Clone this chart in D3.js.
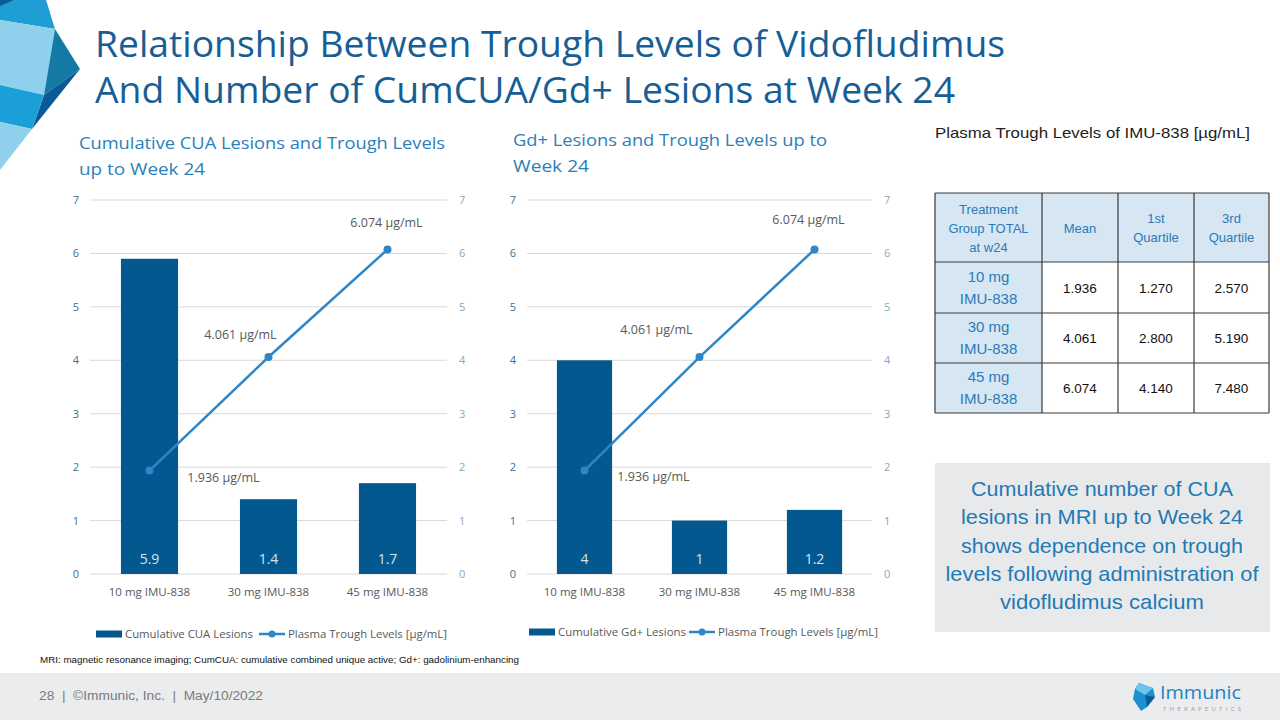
<!DOCTYPE html>
<html lang="en">
<head>
<meta charset="UTF-8">
<title>Relationship Between Trough Levels of Vidofludimus</title>
<script src="https://d3js.org/d3.v7.min.js"></script>
<style>
    body { margin: 0; background: #fff; }
    svg { display: block; }
    text { font-family: "Open Sans", "Noto Sans", sans-serif; }
    .calibri { font-family: "Liberation Sans", Arial, sans-serif; }
</style>
</head>
<body>
<svg width="1280" height="720"></svg>
<script>
// ---- data ----
const categories = ["10 mg IMU-838", "30 mg IMU-838", "45 mg IMU-838"];
const cuaLesions = [5.9, 1.4, 1.7];
const gdLesions = [4, 1, 1.2];
const troughMean = [1.936, 4.061, 6.074];
const troughQ1 = [1.270, 2.800, 4.140];
const troughQ3 = [2.570, 5.190, 7.480];
const yTicks = [0, 1, 2, 3, 4, 5, 6, 7];
const tableHeader = [["Treatment", "Group TOTAL", "at w24"], ["Mean"], ["1st", "Quartile"], ["3rd", "Quartile"]];
const tableGroups = [["10 mg", "IMU-838"], ["30 mg", "IMU-838"], ["45 mg", "IMU-838"]];

const svg = d3.select("svg");
const fmt3 = d3.format(".3f");

const BAR = "#03588f", LINE = "#2d86c7", GRID = "#d9d9d9";

// ---- top-left decoration ----
const deco = svg.append("g");
[
    [[0,0],[46,0],[55,29],[0,20]], "#1f9dd5",
    [[0,0],[14,0],[0,6]], "#0b5c96",
    [[0,20],[55,29],[44,95],[0,85]], "#8fd1ec",
    [[55,29],[80,69],[44,95]], "#137aa6",
    [[80,69],[44,95],[32,129]], "#0a5a98",
    [[0,85],[44,95],[32,129],[0,122]], "#1a9fd8",
    [[0,122],[32,129],[0,170]], "#8fd1ec"
].reduce((acc, v, i, arr) => { if (i % 2 === 0) acc.push([v, arr[i + 1]]); return acc; }, [])
 .forEach(([pts, c]) => deco.append("polygon").attr("points", pts.join(" ")).attr("fill", c));

// ---- main title ----
svg.append("text").attr("x", 95).attr("y", 57).attr("font-size", 37).attr("fill", "#175e96")
    .attr("textLength", 910).attr("lengthAdjust", "spacingAndGlyphs")
    .text("Relationship Between Trough Levels of Vidofludimus");
svg.append("text").attr("x", 95).attr("y", 103).attr("font-size", 37).attr("fill", "#175e96")
    .attr("textLength", 860).attr("lengthAdjust", "spacingAndGlyphs")
    .text("And Number of CumCUA/Gd+ Lesions at Week 24");

// ---- combo chart ----
function drawCombo(cfg) {
    const g = svg.append("g");
    const x = d3.scaleBand().domain(categories).range([cfg.x0, cfg.x1]);
    const y = d3.scaleLinear().domain([0, 7]).range([574, 200]);
    const bw = x.bandwidth() * 0.48;
    const cx = d => x(d) + x.bandwidth() / 2;

    // titles
    cfg.title.forEach((t, i) => g.append("text")
        .attr("x", cfg.titleX).attr("y", cfg.titleY + i * 26)
        .attr("font-size", 17).attr("fill", "#2b7fba")
        .attr("textLength", cfg.titleLen[i]).attr("lengthAdjust", "spacingAndGlyphs")
        .text(t));

    // gridlines
    g.append("g").selectAll("line").data(yTicks).join("line")
        .attr("x1", cfg.x0).attr("x2", cfg.x1)
        .attr("y1", d => y(d)).attr("y2", d => y(d))
        .attr("stroke", GRID).attr("stroke-width", 1);

    // left axis
    const left = g.append("g").attr("transform", `translate(${cfg.x0 - 11},0)`)
        .call(d3.axisLeft(y).tickValues(yTicks).tickFormat(d3.format("d")).tickSize(0).tickPadding(0));
    left.select(".domain").remove();
    left.selectAll("text").attr("font-size", 11).attr("fill", "#3f6f92").attr("font-family", "Open Sans");

    // right axis
    const right = g.append("g").attr("transform", `translate(${cfg.x1 + 12},0)`)
        .call(d3.axisRight(y).tickValues(yTicks).tickFormat(d3.format("d")).tickSize(0).tickPadding(0));
    right.select(".domain").remove();
    right.selectAll("text").attr("font-size", 11).attr("fill", "#86a9c0").attr("font-family", "Open Sans");

    // category axis
    g.append("g").selectAll("text").data(categories).join("text")
        .attr("x", cx).attr("y", 596).attr("text-anchor", "middle")
        .attr("font-size", 11.5).attr("fill", "#595959").text(d => d);

    // bars
    g.append("g").selectAll("rect").data(cfg.bars).join("rect")
        .attr("x", (d, i) => cx(categories[i]) - bw / 2).attr("width", bw)
        .attr("y", d => y(d)).attr("height", d => y(0) - y(d))
        .attr("fill", BAR);
    g.append("g").selectAll("text").data(cfg.bars).join("text")
        .attr("x", (d, i) => cx(categories[i])).attr("y", 564)
        .attr("text-anchor", "middle").attr("font-size", 14).attr("fill", "#d6e4ee")
        .text(d => d);

    // line
    const line = d3.line().x((d, i) => cx(categories[i])).y(d => y(d));
    g.append("path").datum(troughMean).attr("d", line)
        .attr("fill", "none").attr("stroke", LINE).attr("stroke-width", 2.5);
    g.append("g").selectAll("circle").data(troughMean).join("circle")
        .attr("cx", (d, i) => cx(categories[i])).attr("cy", d => y(d)).attr("r", 4)
        .attr("fill", LINE);
    g.append("g").selectAll("text").data(troughMean).join("text")
        .attr("x", (d, i) => cx(categories[i]) + cfg.lblOff[i][0])
        .attr("y", (d, i) => y(d) + cfg.lblOff[i][1] + 5)
        .attr("text-anchor", "middle").attr("font-size", 12.5).attr("fill", "#595959")
        .text(d => fmt3(d) + " µg/mL");

    // legend
    const lg = g.append("g").attr("transform", `translate(${cfg.legX},${cfg.legY})`);
    lg.append("rect").attr("x", 0).attr("y", -3.5).attr("width", 26).attr("height", 7).attr("fill", BAR);
    lg.append("text").attr("x", 29).attr("y", 4).attr("font-size", 11).attr("fill", "#595959")
        .attr("textLength", cfg.legLen[0]).attr("lengthAdjust", "spacingAndGlyphs").text(cfg.barName);
    lg.append("line").attr("x1", cfg.legLine).attr("x2", cfg.legLine + 26).attr("y1", 0).attr("y2", 0)
        .attr("stroke", LINE).attr("stroke-width", 2.5);
    lg.append("circle").attr("cx", cfg.legLine + 13).attr("cy", 0).attr("r", 3.5).attr("fill", LINE);
    lg.append("text").attr("x", cfg.legLine + 29).attr("y", 4).attr("font-size", 11).attr("fill", "#595959")
        .attr("textLength", cfg.legLen[1]).attr("lengthAdjust", "spacingAndGlyphs")
        .text("Plasma Trough Levels [µg/mL]");
}

drawCombo({
    x0: 90, x1: 447, bars: cuaLesions,
    title: ["Cumulative CUA Lesions and Trough Levels", "up to Week 24"],
    titleX: 79, titleY: 149, titleLen: [366, 126],
    lblOff: [[74, 6], [-28, -23], [-1, -27]],
    barName: "Cumulative CUA Lesions", legX: 96, legY: 634, legLine: 163, legLen: [128, 159]
});
drawCombo({
    x0: 527, x1: 872, bars: gdLesions,
    title: ["Gd+ Lesions and Trough Levels up to", "Week 24"],
    titleX: 513, titleY: 146, titleLen: [314, 76],
    lblOff: [[69, 5], [-43, -28], [-6, -30]],
    barName: "Cumulative Gd+ Lesions", legX: 529, legY: 632, legLine: 160, legLen: [128, 160]
});

// ---- table ----
svg.append("text").attr("x", 935).attr("y", 138).attr("font-size", 15).attr("fill", "#222")
    .attr("class", "calibri").attr("textLength", 315).attr("lengthAdjust", "spacingAndGlyphs")
    .text("Plasma Trough Levels of IMU-838 [µg/mL]");

const colX = [935, 1042, 1118, 1194, 1269];
const rowY = [193, 262, 313, 363, 413];
const tbl = svg.append("g");
const tableRows = tableGroups.map((grp, i) => [grp, [fmt3(troughMean[i])], [fmt3(troughQ1[i])], [fmt3(troughQ3[i])]]);
const allRows = [tableHeader].concat(tableRows);
allRows.forEach((row, r) => {
    row.forEach((lines, c) => {
        const x0 = colX[c], x1 = colX[c + 1], y0 = rowY[r], y1 = rowY[r + 1];
        tbl.append("rect").attr("x", x0).attr("y", y0).attr("width", x1 - x0).attr("height", y1 - y0)
            .attr("fill", (r === 0 || c === 0) ? "#d6e6f3" : "#fff");
        const blue = r === 0 || c === 0;
        const lh = r === 0 ? 19 : 22;
        const ym = (y0 + y1) / 2 - (lines.length - 1) * lh / 2;
        lines.forEach((t, k) => tbl.append("text")
            .attr("x", (x0 + x1) / 2).attr("y", ym + k * lh + 5)
            .attr("text-anchor", "middle").attr("class", "calibri")
            .attr("font-size", r === 0 ? 13 : (blue ? 15 : 13.5))
            .attr("fill", blue ? "#2b7bb8" : "#111").text(t));
    });
});
colX.forEach(xv => tbl.append("line").attr("x1", xv).attr("x2", xv).attr("y1", rowY[0]).attr("y2", rowY[rowY.length - 1])
    .attr("stroke", "#3a3a3a").attr("stroke-width", 1.2));
rowY.forEach(yv => tbl.append("line").attr("x1", colX[0]).attr("x2", colX[colX.length - 1]).attr("y1", yv).attr("y2", yv)
    .attr("stroke", "#3a3a3a").attr("stroke-width", 1.2));

// ---- conclusion box ----
svg.append("rect").attr("x", 935).attr("y", 463).attr("width", 335).attr("height", 169).attr("fill", "#e8e9ea");
const boxLines = ["Cumulative number of CUA", "lesions in MRI up to Week 24", "shows dependence on trough",
    "levels following administration of", "vidofludimus calcium"];
const boxLen = [262, 282, 282, 313, 204];
boxLines.forEach((t, i) => svg.append("text")
    .attr("x", 1102).attr("y", 496 + i * 28.3).attr("text-anchor", "middle")
    .attr("class", "calibri").attr("font-size", 21).attr("fill", "#1f7ab6")
    .attr("textLength", boxLen[i]).attr("lengthAdjust", "spacingAndGlyphs").text(t));

// ---- footnote & footer ----
svg.append("text").attr("x", 40).attr("y", 663).attr("class", "calibri").attr("font-size", 9.5).attr("fill", "#111")
    .attr("textLength", 479).attr("lengthAdjust", "spacingAndGlyphs")
    .text("MRI: magnetic resonance imaging; CumCUA: cumulative combined unique active; Gd+: gadolinium-enhancing");
svg.append("rect").attr("x", 0).attr("y", 673).attr("width", 1280).attr("height", 47).attr("fill", "#ebeced");
svg.append("text").attr("x", 39).attr("y", 700).attr("class", "calibri").attr("font-size", 12).attr("fill", "#7a7a7a")
    .style("white-space", "pre")
    .attr("textLength", 224).attr("lengthAdjust", "spacingAndGlyphs")
    .text("28  |  ©Immunic, Inc.  |  May/10/2022");

// logo
const logo = svg.append("g").attr("transform", "translate(1133,683)");
logo.append("polygon").attr("points", "6,0 20,5 22,14 14,24 8,28 0,16 2,6").attr("fill", "#1d8fcf");
logo.append("polygon").attr("points", "6,0 20,5 12,12 2,6").attr("fill", "#6cc4ea");
logo.append("polygon").attr("points", "12,12 22,14 14,24").attr("fill", "#0b5c96");
logo.append("text").attr("x", 27).attr("y", 16).attr("font-size", 18).attr("fill", "#1f80c2")
    .attr("textLength", 81).attr("lengthAdjust", "spacingAndGlyphs").text("Immunic");
logo.append("text").attr("x", 30).attr("y", 28).attr("font-size", 6).attr("fill", "#9a9a9a")
    .attr("textLength", 78).attr("lengthAdjust", "spacing").text("THERAPEUTICS");
</script>
</body>
</html>
